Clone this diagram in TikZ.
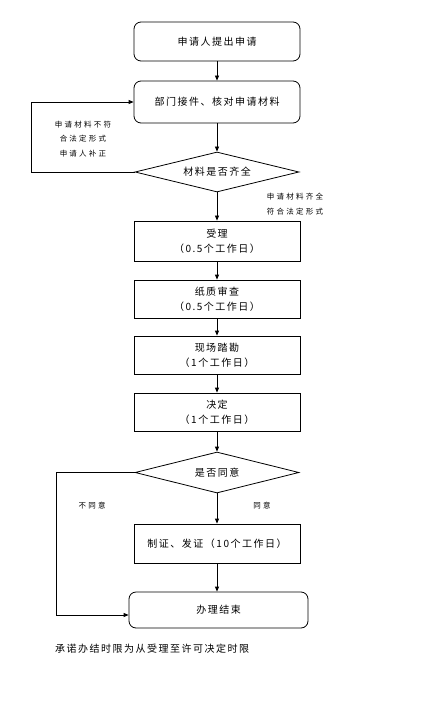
\documentclass[tikz,border=0pt]{standalone}
\usepackage{fontspec}
\newfontfamily\cjk[LetterSpace=15]{Noto Sans CJK SC}
\newfontfamily\cjksmall[LetterSpace=30]{Noto Sans CJK SC}
\usetikzlibrary{shapes.geometric,arrows.meta}
\tikzset{
    box/.style={draw, thick, minimum width=166pt, minimum height=39pt, align=center,
        font=\cjk\fontsize{10}{15}\selectfont},
    roundbox/.style={box, rounded corners=7pt},
    decision/.style={draw, thick, diamond, aspect=4, minimum width=164pt, minimum height=41pt,
        inner sep=0pt, font=\cjk\fontsize{10}{15}\selectfont},
    note/.style={align=center, font=\cjksmall\fontsize{7.5}{14.5}\selectfont},
}
\begin{document}
\begin{tikzpicture}[x=1pt, y=1pt, >={Triangle[length=5pt, width=4pt]}]
    \useasboundingbox (0, 0) rectangle (425, -703);

    % Application and check
    \node[roundbox] (apply) at (217, -41.5) {申请人提出申请};
    \node[roundbox, minimum height=42pt] (check) at (217, -102) {部门接件、核对申请材料};
    \node[decision, minimum height=40pt] (complete) at (217, -172) {材料是否齐全};

    % Working steps
    \node[box, minimum height=40pt] (accept) at (217, -241) {受理\\（0.5个工作日）};
    \node[box, minimum height=38pt] (review) at (217, -299) {纸质审查\\（0.5个工作日）};
    \node[box, minimum height=38pt] (survey) at (217, -355) {现场踏勘\\（1个工作日）};
    \node[box, minimum height=38pt] (decide) at (217, -412) {决定\\（1个工作日）};
    \node[decision] (agree) at (217, -472.5) {是否同意};
    \node[box] (issue) at (217, -543.5) {制证、发证（10个工作日）};
    \node[roundbox, minimum width=179pt, minimum height=36pt] (finish) at (218.5, -610) {办理结束};

    % Main flow
    \draw[->, thick] (apply) -- (check);
    \draw[->, thick] (check) -- (complete);
    \draw[->, thick] (complete) -- (accept);
    \draw[->, thick] (accept) -- (review);
    \draw[->, thick] (review) -- (survey);
    \draw[->, thick] (survey) -- (decide);
    \draw[->, thick] (decide) -- (agree);
    \draw[->, thick] (agree) -- (issue);
    \draw[->, thick] (issue.south) -- (issue.south |- finish.north);

    % Return loops
    \coordinate (loopback) at (31, -172);
    \draw[->, thick] (complete.west) -- (loopback) |- (check.west);
    \coordinate (refuse) at (56, -472.5);
    \draw[->, thick] (agree.west) -- (refuse) |- ([yshift=-5pt]finish.west);

    % Branch labels
    \node[note] (notfit) at (83, -139) {申请材料不符\\合法定形式\\申请人补正};
    \node[note] (fit) at (295, -204) {申请材料齐全\\符合法定形式};
    \node[note] (nolabel) at (92, -506) {不同意};
    \node[note] (yeslabel) at (262, -506) {同意};

    % Footnote
    \node[anchor=west, inner sep=0pt, font=\cjk\fontsize{10}{15}\selectfont] (limit) at (55, -649) {承诺办结时限为从受理至许可决定时限};
\end{tikzpicture}
\end{document}
